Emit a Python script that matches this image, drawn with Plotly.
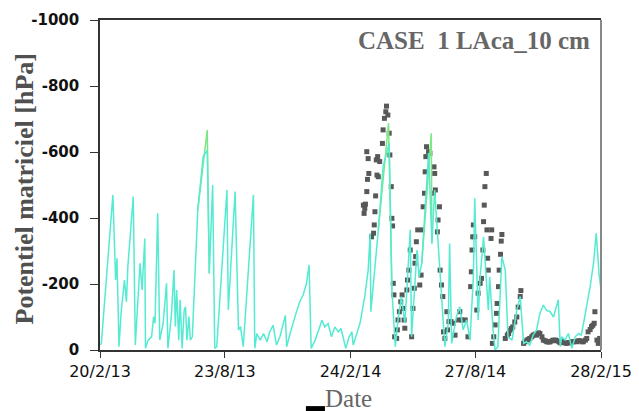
import pandas as pd
import plotly.graph_objects as go

START = "2013-02-20"

# Simulated (cyan) series: day offset from 20/2/13, potential in hPa
sim_days = [0, 2, 19, 23, 25, 28, 31, 36, 39, 41, 49, 52, 59, 62, 66, 67, 71, 76, 79, 81,
            85, 88, 93, 98, 100, 105, 109, 111, 113, 116, 118, 121, 124, 126, 128, 131, 133, 136,
            144, 152, 158, 161, 166, 169, 172, 187, 189, 199, 204, 207, 211, 226, 228, 231, 236,
            241, 246, 250, 255, 260, 265, 273, 275, 280, 290, 295, 299, 304, 308, 311, 317, 322,
            327, 331, 336, 341, 346, 351, 355, 358, 362, 367, 371, 373, 377, 383, 390, 395, 398,
            399, 410, 417, 426, 430, 435, 439, 444, 449, 452, 457, 459, 467, 470, 474, 484, 489,
            493, 497, 503, 508, 513, 515, 518, 525, 530, 535, 540, 545, 550, 552, 555, 557, 560,
            565, 572, 574, 579, 582, 586, 592, 597, 599, 601, 607, 614, 619, 624, 628, 633, 638,
            643, 648, 653, 658, 663, 668, 675, 678, 680, 685, 690, 695, 700, 705, 709, 714, 722,
            727, 731, 735, 738]
sim_vals = [-15, -20, -470, -212, -278, -10, -111, -212, -146, -252, -465, -15, -263, -182, -338, -5,
            -30, -40, -101, -81, -414, -30, -81, -202, -5, -101, -242, -71, -182, -30, -152, -5,
            -121, -131, -30, -101, -30, -40, -424, -586, -606, -232, -500, -5, -10, -485, -121,
            -480, -61, -71, -10, -470, -5, -50, -30, -50, -25, -55, -75, -15, -40, -105, -10, -50,
            -120, -150, -165, -200, -258, -5, -30, -60, -90, -70, -80, -40, -70, -55, -65, -40, -5,
            -40, -55, -15, -40, -81, -162, -242, -354, -116, -364, -555, -627, -182, -10, -91,
            -162, -81, -182, -364, -40, -303, -222, -263, -597, -323, -485, -364, -162, -10, -81,
            -323, -20, -101, -131, -61, -91, -30, -222, -460, -242, -91, -222, -343, -121, -222,
            -60, 0, -10, -283, -242, -142, -40, -30, -121, -162, -20, -25, -15, -45, -60, -111,
            -136, -120, -116, -100, -152, -10, -40, -30, -50, -5, -40, -50, -45, -100, -192, -263,
            -354, -233, -182]

# Second simulated (green) series where it departs from the cyan one
green_days = [144, 158, 161, None, 410, 425, 430, None, 474, 488, 489]
green_vals = [-424, -667, -232, None, -364, -688, -182, None, -263, -657, -323]

# Observations (dark squares)
obs_days = [388, 389, 390, 391, 393, 394, 396, 393, 395, 400, 403, 404, 405, 406, 408, 410, 407,
            409, 412, 416, 417, 419, 421, 422, 424, 426, 427, 429, 430, 431, 432, 433, 434, 437,
            438, 439, 441, 443, 445, 447, 448, 449, 452, 453, 455, 457, 459, 461, 463, 464, 465,
            466, 468, 471, 473, 475, 476, 478, 479, 480, 481, 484, 486, 491, 492, 493, 494, 497,
            498, 500, 501, 503, 505, 506, 508, 511, 512, 514, 517, 520, 523, 528, 530, 533, 538,
            542, 546, 547, 548, 549, 550, 552, 555, 557, 560, 562, 564, 565, 566, 567, 569, 570,
            571, 572, 576, 577, 578, 580, 582, 584, 585, 587, 588, 590, 591, 592, 597, 600, 602,
            604, 606, 608, 611, 614, 616, 619, 620, 624, 626, 629, 631, 633, 636, 638, 641, 643,
            646, 648, 651, 653, 656, 658, 661, 663, 666, 668, 671, 673, 676, 678, 680, 682, 685,
            687, 690, 692, 695, 697, 700, 702, 705, 707, 710, 712, 715, 717, 719, 722, 724, 726,
            728, 729, 732, 734, 736]
obs_vals = [-439, -414, -429, -442, -480, -517, -535, -601, -580, -343, -354, -379, -419, -467,
            -530, -525, -576, -586, -571, -626, -667, -702, -722, -739, -712, -657, -591, -495,
            -399, -376, -202, -167, -40, -35, -61, -91, -116, -146, -167, -126, -91, -66, -182,
            -212, -242, -303, -40, -126, -187, -263, -283, -328, -364, -197, -227, -364, -434,
            -475, -540, -586, -616, -601, -596, -475, -555, -535, -485, -358, -394, -434, -242,
            -197, -162, -55, -35, -116, -61, -86, -86, -81, -45, -91, -116, -91, -91, -40, -192,
            -237, -303, -343, -379, -343, -121, -172, -202, -217, -303, -389, -439, -495, -535,
            -364, -278, -242, -338, -364, -20, -40, -76, -111, -141, -192, -242, -290, -330, -350,
            -35, -45, -50, -60, -65, -70, -85, -100, -130, -162, -180, -20, -25, -30, -32, -35,
            -40, -45, -48, -45, -52, -50, -40, -30, -28, -25, -24, -25, -28, -30, -30, -28, -25,
            -22, -24, -25, -22, -20, -22, -22, -25, -25, -26, -25, -28, -28, -25, -25, -30, -35,
            -55, -62, -71, -75, -81, -116, -30, -20, -35]

tick_dates = ["2013-02-20", "2013-08-23", "2014-02-24", "2014-08-27", "2015-02-28"]
tick_labels = ["20/2/13", "23/8/13", "24/2/14", "27/8/14", "28/2/15"]
y_ticks = [-1000, -800, -600, -400, -200, 0]
y_tick_labels = ["-1000", "-800", "-600", "-400", "-200", "0"]

start = pd.Timestamp(START)


def to_dates(days):
    return [None if d is None else start + pd.Timedelta(days=d) for d in days]


fig = go.Figure()
fig.add_trace(go.Scatter(x=to_dates(obs_days), y=obs_vals, mode="markers",
                         marker=dict(symbol="square", size=5, color="#585858"),
                         showlegend=False))
fig.add_trace(go.Scatter(x=to_dates(green_days), y=green_vals, mode="lines",
                         line=dict(color="#7DE883", width=1.5), connectgaps=False,
                         showlegend=False))
fig.add_trace(go.Scatter(x=to_dates(sim_days), y=sim_vals, mode="lines",
                         line=dict(color="#55EBD2", width=1.5), showlegend=False))

# page body has an 8px margin: figure is 631x403 placed at (8, 8)
fig.update_layout(
    width=631, height=403,
    margin=dict(l=92, r=38, t=12, b=61),
    paper_bgcolor="white", plot_bgcolor="white",
    xaxis=dict(type="date", range=["2013-02-20", "2015-02-28"],
               tickvals=tick_dates, ticktext=tick_labels,
               showgrid=False, zeroline=False, automargin=False,
               ticklabeloverflow="allow",
               showline=True, linecolor="#333333", linewidth=1.5, mirror=True,
               ticks="outside", ticklen=6, tickcolor="#333333",
               tickfont=dict(family="DejaVu Sans", size=16, color="#111111")),
    yaxis=dict(range=[0, -1000], tickvals=y_ticks, ticktext=y_tick_labels,
               showgrid=False, zeroline=False, automargin=False,
               showline=True, linecolor="#333333", linewidth=1.5,
               ticks="outside", ticklen=8, tickcolor="#333333",
               ticklabelstandoff=8,
               tickfont=dict(family="DejaVu Sans", size=15, color="#111111", weight="bold")),
    shapes=[
        dict(type="line", xref="paper", yref="paper", x0=1, x1=1, y0=0, y1=1,
             line=dict(color="#888888", width=2)),
        dict(type="rect", xref="paper", yref="paper", x0=0.411, x1=0.449, y0=-0.185, y1=-0.170,
             fillcolor="black", line=dict(width=0)),
    ],
    annotations=[
        dict(text="<b>CASE  1 LAca_10 cm</b>", xref="paper", yref="paper", x=0.982, y=0.939,
             xanchor="right", yanchor="middle", showarrow=False,
             font=dict(family="Liberation Serif", size=25, color="#666666")),
        dict(text="<b>Potentiel matriciel [hPa]</b>", xref="paper", yref="paper",
             x=-0.15, y=0.489, xanchor="center", yanchor="middle", textangle=-90,
             showarrow=False, font=dict(family="Liberation Serif", size=26, color="#505050")),
        dict(text="Date", xref="paper", yref="paper", x=0.497, y=-0.148,
             xanchor="center", yanchor="middle", showarrow=False,
             font=dict(family="Liberation Serif", size=25, color="#666666")),
    ],
)

fig.write_html("out.html")
